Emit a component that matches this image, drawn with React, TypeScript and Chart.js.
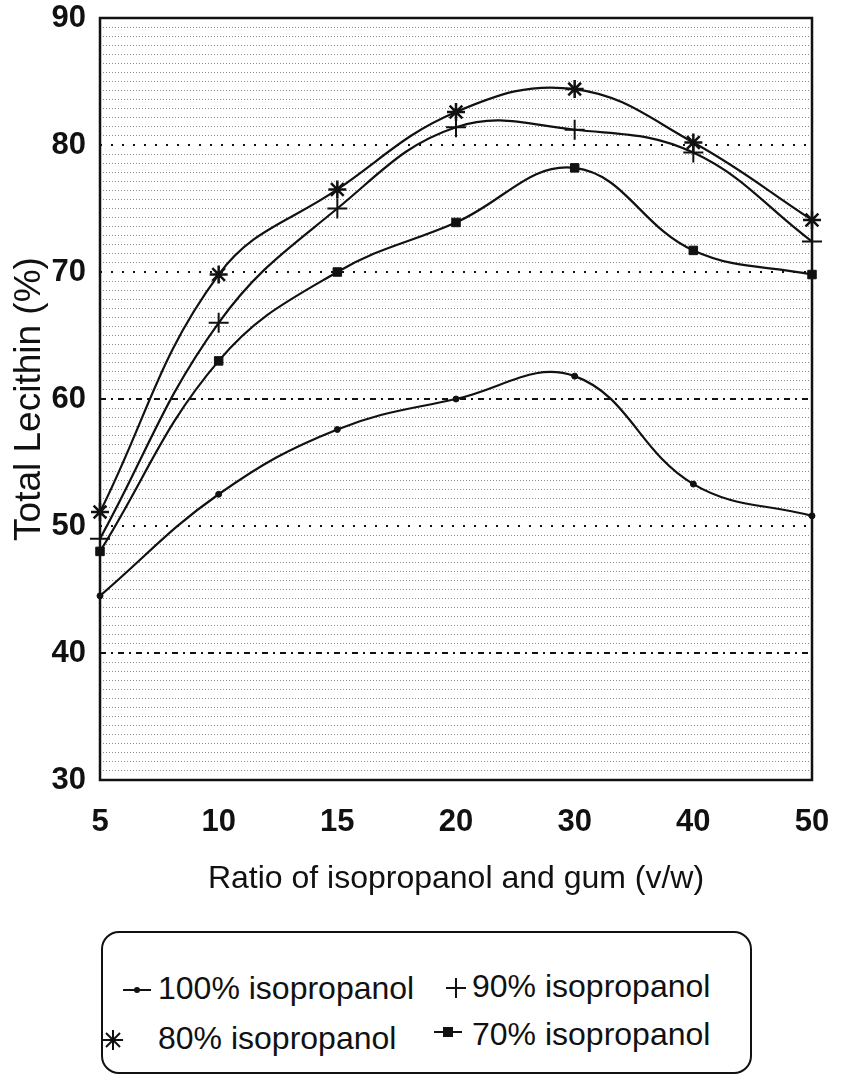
import React, { useEffect, useRef } from 'react';
import { Chart, registerables } from 'chart.js';

Chart.register(...registerables);

// ---- data ----
const categories = ['5', '10', '15', '20', '30', '40', '50'];
const iso100 = [44.5, 52.5, 57.6, 60.0, 61.8, 53.3, 50.8];
const iso90 = [49.0, 66.0, 75.0, 81.4, 81.2, 79.4, 72.4];
const iso80 = [51.1, 69.8, 76.5, 82.6, 84.4, 80.2, 74.1];
const iso70 = [48.0, 63.0, 70.0, 73.9, 78.2, 71.7, 69.8];
const seriesLabels = ['100% isopropanol', '90% isopropanol', '80% isopropanol', '70% isopropanol'];
const yMin = 30;
const yMax = 90;
const yMajorStep = 10;
const yMinorPerMajor = 14;
const xTitle = 'Ratio of isopropanol and gum (v/w)';
const yTitle = 'Total Lecithin (%)';

const INK = '#111';
const FONT = "'Liberation Sans', Arial, Helvetica, sans-serif";

const isMajor = (v: number) => Math.abs(v / yMajorStep - Math.round(v / yMajorStep)) < 1e-6;

const framePlugin = {
  id: 'frame',
  beforeDatasetsDraw(chart: any) {
    const { ctx, chartArea: a } = chart;
    ctx.save();
    ctx.strokeStyle = INK;
    ctx.lineWidth = 2.5;
    ctx.setLineDash([]);
    ctx.strokeRect(a.left, a.top, a.right - a.left, a.bottom - a.top);
    ctx.restore();
  },
};

function LegendMarker({ kind }: { kind: string }) {
  const s = { stroke: INK, strokeWidth: 2, fill: 'none' } as any;
  if (kind === 'dot') {
    return (
      <svg width="30" height="20" viewBox="0 0 30 20">
        <line x1="1" y1="10" x2="29" y2="10" {...s} />
        <circle cx="15" cy="10" r="3" fill={INK} />
      </svg>
    );
  }
  if (kind === 'plus') {
    return (
      <svg width="22" height="22" viewBox="0 0 22 22">
        <line x1="1" y1="11" x2="21" y2="11" {...s} />
        <line x1="11" y1="1" x2="11" y2="21" {...s} />
      </svg>
    );
  }
  if (kind === 'star') {
    return (
      <svg width="22" height="22" viewBox="0 0 22 22">
        <line x1="1" y1="11" x2="21" y2="11" {...s} />
        <line x1="11" y1="1" x2="11" y2="21" {...s} />
        <line x1="4" y1="4" x2="18" y2="18" {...s} />
        <line x1="18" y1="4" x2="4" y2="18" {...s} />
      </svg>
    );
  }
  return (
    <svg width="30" height="20" viewBox="0 0 30 20">
      <line x1="1" y1="10" x2="29" y2="10" {...s} />
      <rect x="10" y="5" width="10" height="10" fill={INK} />
    </svg>
  );
}

const zeroPad = (scale: any) => {
  scale.paddingTop = 0;
  scale.paddingBottom = 0;
  scale.paddingLeft = 0;
  scale.paddingRight = 0;
};

export default function App() {
  const canvasRef = useRef<HTMLCanvasElement | null>(null);

  useEffect(() => {
    if (!canvasRef.current) return;
    const base = {
      borderColor: INK,
      backgroundColor: INK,
      borderWidth: 2.2,
      tension: 0.4,
      fill: false,
      clip: false as any,
      pointBorderColor: INK,
      pointBackgroundColor: INK,
    };
    const chart = new Chart(canvasRef.current, {
      type: 'line',
      data: {
        labels: categories,
        datasets: [
          { ...base, label: seriesLabels[0], data: iso100, pointStyle: 'circle', pointRadius: 3, pointBorderWidth: 1 },
          { ...base, label: seriesLabels[1], data: iso90, pointStyle: 'cross', pointRadius: 10, pointBorderWidth: 2 },
          { ...base, label: seriesLabels[2], data: iso80, pointStyle: 'star', pointRadius: 9, pointBorderWidth: 2.5 },
          { ...base, label: seriesLabels[3], data: iso70, pointStyle: 'rect', pointRadius: 6, pointBorderWidth: 1 },
        ],
      },
      options: {
        animation: false,
        responsive: false,
        maintainAspectRatio: false,
        layout: { padding: { left: 0, right: 29, top: 18, bottom: 0 } },
        plugins: {
          legend: { display: false },
          tooltip: { enabled: false },
        },
        scales: {
          x: {
            type: 'category',
            offset: false,
            grid: { display: false, drawTicks: false },
            border: { display: false },
            ticks: {
              color: INK,
              padding: 24,
              maxRotation: 0,
              autoSkip: false,
              font: { family: FONT, size: 31, weight: 'bold' },
            },
            title: {
              display: true,
              text: xTitle,
              color: INK,
              font: { family: FONT, size: 32 },
              padding: { top: 0, bottom: 27 },
            },
            afterFit: (scale: any) => {
              scale.height = 145;
              zeroPad(scale);
            },
          },
          y: {
            type: 'linear',
            min: yMin,
            max: yMax,
            afterBuildTicks: (scale: any) => {
              const ticks: any[] = [];
              const n = ((yMax - yMin) / yMajorStep) * yMinorPerMajor;
              for (let i = 0; i <= n; i++) {
                ticks.push({ value: yMin + (i * yMajorStep) / yMinorPerMajor });
              }
              scale.ticks = ticks;
            },
            grid: {
              drawTicks: false,
              color: (ctx: any) => {
                const v = ctx.tick ? ctx.tick.value : 0;
                if (Math.abs(v - yMin) < 1e-6 || Math.abs(v - yMax) < 1e-6) return 'rgba(0,0,0,0)';
                return isMajor(v) ? INK : '#8c8c8c';
              },
              lineWidth: (ctx: any) => {
                const v = ctx.tick ? ctx.tick.value : 0;
                return isMajor(v) ? 2 : 1;
              },
            },
            border: {
              display: false,
              dash: (ctx: any) => {
                const v = ctx.tick ? ctx.tick.value : 0;
                if (isMajor(v)) {
                  const r = Math.round(v);
                  if (r === 60 || r === 40) return [6, 5, 2, 5];
                  return [2, 9];
                }
                return [1, 2];
              },
            },
            ticks: {
              color: INK,
              padding: 14,
              autoSkip: false,
              font: { family: FONT, size: 31, weight: 'bold' },
              callback: (value: any) => (isMajor(Number(value)) ? String(Math.round(Number(value))) : ''),
            },
            title: {
              display: true,
              text: yTitle,
              color: INK,
              font: { family: FONT, size: 37 },
              padding: { top: 8, bottom: 0 },
            },
            afterFit: (scale: any) => {
              scale.width = 100;
              zeroPad(scale);
            },
          },
        },
      },
      plugins: [framePlugin],
    } as any);
    return () => chart.destroy();
  }, []);

  const textStyle: React.CSSProperties = {
    position: 'absolute',
    fontFamily: FONT,
    fontSize: 32,
    lineHeight: '36px',
    color: INK,
    whiteSpace: 'nowrap',
  };
  const markerStyle = (cx: number, cy: number, w: number, h: number): React.CSSProperties => ({
    position: 'absolute',
    left: cx - w / 2,
    top: cy - h / 2,
    width: w,
    height: h,
    lineHeight: 0,
  });

  return (
    <div style={{ position: 'absolute', left: 0, top: 0, width: 841, height: 1084, background: '#fff', overflow: 'hidden' }}>
      <canvas ref={canvasRef} width={841} height={925} style={{ position: 'absolute', left: 0, top: 0, width: 841, height: 925 }} />
      <div
        style={{
          position: 'absolute',
          left: 101,
          top: 931,
          width: 651,
          height: 143,
          boxSizing: 'border-box',
          border: `2px solid ${INK}`,
          borderRadius: 18,
        }}
      />
      <div style={markerStyle(137, 990, 30, 20)}><LegendMarker kind="dot" /></div>
      <div style={{ ...textStyle, left: 158, top: 988 - 18 }}>{seriesLabels[0]}</div>
      <div style={markerStyle(456, 988, 22, 22)}><LegendMarker kind="plus" /></div>
      <div style={{ ...textStyle, left: 472, top: 986 - 18 }}>{seriesLabels[1]}</div>
      <div style={markerStyle(113, 1040, 22, 22)}><LegendMarker kind="star" /></div>
      <div style={{ ...textStyle, left: 158, top: 1038 - 18 }}>{seriesLabels[2]}</div>
      <div style={markerStyle(448, 1032, 30, 20)}><LegendMarker kind="square" /></div>
      <div style={{ ...textStyle, left: 472, top: 1034 - 18 }}>{seriesLabels[3]}</div>
    </div>
  );
}
